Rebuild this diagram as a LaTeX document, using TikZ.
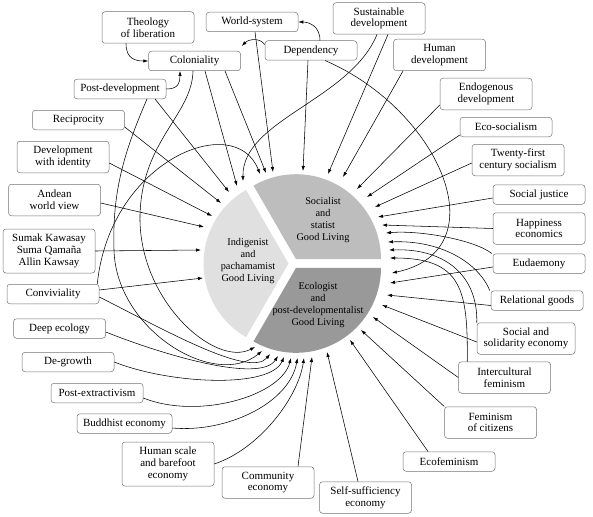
\documentclass[tikz,border=0pt]{standalone}
\usepackage{fontspec}
\setmainfont{Liberation Serif}
\usetikzlibrary{arrows.meta,calc}
\begin{document}
\begin{tikzpicture}[x=1pt,y=-1pt,
  box/.style={draw=black!55, rounded corners=3pt, line width=0.5pt, fill=white, align=center, minimum width=92pt, inner sep=1pt, font=\fontsize{11}{11.7}\selectfont},
  one/.style={box, minimum height=19.5pt},
  two/.style={box, minimum height=31.5pt},
  three/.style={box, minimum height=44pt},
  arr/.style={-{Latex[length=5pt,width=3.4pt]}, line width=0.55pt},
  lbl/.style={align=center, font=\fontsize{10.3}{12}\selectfont}
]
\useasboundingbox (0,0) rectangle (593,516);
% pie
\fill[black!12] (288.5,263.5) -- ++(120:85pt) arc[start angle=120,end angle=240,radius=85pt] -- cycle;
\fill[black!26] (296,259.2) -- ++(0:85pt) arc[start angle=0,end angle=120,radius=85pt] -- cycle;
\fill[black!40] (296,267.8) -- ++(240:85pt) arc[start angle=240,end angle=360,radius=85pt] -- cycle;
\node[lbl] (soc) at (323,220) {Socialist\\and\\statist\\Good Living};
\node[lbl] (ind) at (248,261) {Indigenist\\and\\pachamamist\\Good Living};
\node[lbl] (eco) at (318,305) {Ecologist\\and\\post-developmentalist\\Good Living};
% boxes
\node[two] (theo) at (148,27.5) {Theology\\of liberation};
\node[one] (ws) at (252,22) {World-system};
\node[one] (col) at (194.5,61) {Coloniality};
\node[one] (dep) at (311,50.5) {Dependency};
\node[two] (susd) at (379,18.5) {Sustainable\\development};
\node[two] (humd) at (439.5,55) {Human\\development};
\node[two] (endo) at (486,94) {Endogenous\\development};
\node[one] (ecos) at (506,127) {Eco-socialism};
\node[two] (twen) at (518,160) {Twenty-first\\century socialism};
\node[one] (postd) at (120,89) {Post-development};
\node[one] (reci) at (78.5,120) {Reciprocity};
\node[two] (devid) at (63,157) {Development\\with identity};
\node[two] (andean) at (54.5,200) {Andean\\world view};
\node[three] (sumak) at (49,251) {Sumak Kawasay\\Suma Qamaña\\Allin Kawsay};
\node[one] (conv) at (53,294) {Conviviality};
\node[one] (deep) at (59.5,328.5) {Deep ecology};
\node[one] (degr) at (68,362) {De-growth};
\node[one] (postx) at (97,393) {Post-extractivism};
\node[one, minimum width=95pt] (budd) at (124.5,423.5) {Buddhist economy};
\node[three] (hums) at (168,464) {Human scale\\and barefoot\\economy};
\node[two] (comm) at (268,482.5) {Community\\economy};
\node[two] (self) at (365.5,497.5) {Self-sufficiency\\economy};
\node[one] (ecof) at (449,461.5) {Ecofeminism};
\node[two] (femc) at (490.5,422.5) {Feminism\\of citizens};
\node[two] (intf) at (504.5,377.5) {Intercultural\\feminism};
\node[two, minimum width=98pt] (sse) at (526,338.5) {Social and\\solidarity economy};
\node[one] (relg) at (537,300.5) {Relational goods};
\node[one] (eud) at (539,263.5) {Eudaemony};
\node[two] (happ) at (539,228.5) {Happiness\\economics};
\node[one] (socj) at (539,194.5) {Social justice};
% targets
\coordinate (tSum) at (201,250);
\coordinate (tAnd) at (204,227);
\coordinate (tDev) at (212,216);
\coordinate (tRec) at (221,203);
\coordinate (tPost) at (229,192);
\coordinate (tColA) at (237,186);
\coordinate (tSusA) at (243,181);
\coordinate (tConvA) at (260,174);
\coordinate (tColB) at (266,173);
\coordinate (tWs) at (273,172);
\coordinate (tDepA) at (303,171);
\coordinate (tSusB) at (328,174);
\coordinate (tHum) at (343,177);
\coordinate (tEndo) at (357,189);
\coordinate (tEcos) at (367,197);
\coordinate (tTwen) at (375,207);
\coordinate (tSocj) at (378,217);
\coordinate (tHapp) at (382,225);
\coordinate (tEudA) at (386,233);
\coordinate (tRelA) at (388,242);
\coordinate (tSseA) at (389,250);
\coordinate (tIntA) at (390,258);
\coordinate (tDepB) at (392,273);
\coordinate (tEudB) at (390,283);
\coordinate (tRelB) at (387,295);
\coordinate (tSseB) at (382,305);
\coordinate (tIntB) at (373,317);
\coordinate (tFem) at (361,330);
\coordinate (tEcof) at (350,340);
\coordinate (tSelf) at (327,352);
\coordinate (tComm) at (312,357);
\coordinate (tHums) at (304,358);
\coordinate (tBudd) at (297.5,358);
\coordinate (tPostx) at (291,358);
\coordinate (tDegr) at (284,357);
\coordinate (tDeep) at (278,356);
\coordinate (tConvB) at (270,354);
\coordinate (tPostB) at (262,351);
\coordinate (tColC) at (255,347);
\coordinate (tConvC) at (203,278);
% connectors among boxes
\draw[arr] ([xshift=-22pt]theo.south) .. controls +(0,16) and +(-12,0) .. (col.west);
\draw[arr] (postd.east) .. controls +(12,0) and +(0,12) .. ([xshift=-14.5pt]col.south);
\draw[arr] ([yshift=6pt]dep.west) .. controls +(-5,-7) and +(7,-7) .. ([xshift=1pt,yshift=5pt]col.north east);
\draw[arr] ([xshift=9pt]dep.north) .. controls +(0,-15) and +(10,0) .. (ws.east);
% top
\draw[arr] ([xshift=-3pt]dep.south) -- (tDepA);
\draw[arr] ([xshift=14pt]dep.south) .. controls (440,110) and (500,250) .. (tDepB);
\draw[arr] ([xshift=3pt]ws.south) -- (tWs);
\draw[arr] ([xshift=10.5pt]col.south) -- (tColA);
\draw[arr] ([xshift=30.5pt]col.south) -- (tColB);
\draw[arr] ([xshift=-2pt]susd.south) .. controls (350,100) and (242,120) .. (tSusA);
\draw[arr] ([xshift=9pt]susd.south) -- (tSusB);
\draw[arr] ([xshift=-36.5pt]humd.south) -- (tHum);
\draw[arr] ([yshift=5pt]endo.south west) -- (tEndo);
\draw[arr] ([yshift=2pt]ecos.south west) -- (tEcos);
\draw[arr] ([yshift=-3pt]twen.west) -- (tTwen);
% left
\draw[arr] ([xshift=35pt]postd.south) -- (tPost);
\draw[arr] ([yshift=-7pt]reci.east) -- (tRec);
\draw[arr] ([yshift=-6pt]devid.east) -- (tDev);
\draw[arr] ([yshift=-3pt]andean.east) -- (tAnd);
\draw[arr] (sumak.east) -- (tSum);
\draw[arr] ([yshift=4pt]conv.east) -- (tConvC);
\draw[arr] ([xshift=-2pt]conv.north east) .. controls (110,160) and (235,110) .. (tConvA);
% big left arcs
\draw[arr] ([xshift=-1.5pt]col.south) .. controls (192,115) and (142,140) .. (140,215) .. controls (138,300) and (215,368) .. (tColC);
\draw[arr] ([xshift=27pt]postd.south) .. controls (125,150) and (112,190) .. (114,250) .. controls (116,330) and (215,390) .. (tPostB);
% bottom
\draw[arr] ([yshift=-3pt]conv.east) .. controls +(60,30) and +(-20,25) .. (tConvB);
\draw[arr] ([yshift=-3.5pt]deep.east) .. controls +(55,22) and +(-18,28) .. (tDeep);
\draw[arr] (degr.east) .. controls +(55,22) and +(-14,32) .. (tDegr);
\draw[arr] ([yshift=-5pt]postx.east) .. controls +(55,22) and +(-10,38) .. (tPostx);
\draw[arr] ([yshift=-4.5pt]budd.east) .. controls +(55,5) and +(-8,45) .. (tBudd);
\draw[arr] (hums.east) .. controls +(45,-15) and +(-6,40) .. (tHums);
\draw[arr] ([xshift=30pt]comm.north) -- (tComm);
\draw[arr] ([xshift=-7.5pt]self.north) -- (tSelf);
\draw[arr] ([xshift=-21pt]ecof.north) -- (tEcof);
\draw[arr] (femc.north west) -- (tFem);
% right
\draw[arr] ([yshift=-3.5pt]socj.west) -- (tSocj);
\draw[arr] (happ.west) -- (tHapp);
\draw[arr] ([xshift=-1pt]eud.north west) .. controls (475,240) and (420,230) .. (tEudA);
\draw[arr] ([yshift=-3.5pt]eud.west) -- (tEudB);
\draw[arr] ([xshift=-1pt]relg.north west) .. controls (478,262) and (440,240) .. (tRelA);
\draw[arr] ([yshift=-5pt]relg.west) -- (tRelB);
\draw[arr] (sse.north west) .. controls (478,280) and (450,248) .. (tSseA);
\draw[arr] ([yshift=-3.5pt]sse.west) -- (tSseB);
\draw[arr] ([xshift=9pt]intf.north west) .. controls (468,290) and (462,258) .. (tIntA);
\draw[arr] (intf.west) -- (tIntB);
\end{tikzpicture}
\end{document}
